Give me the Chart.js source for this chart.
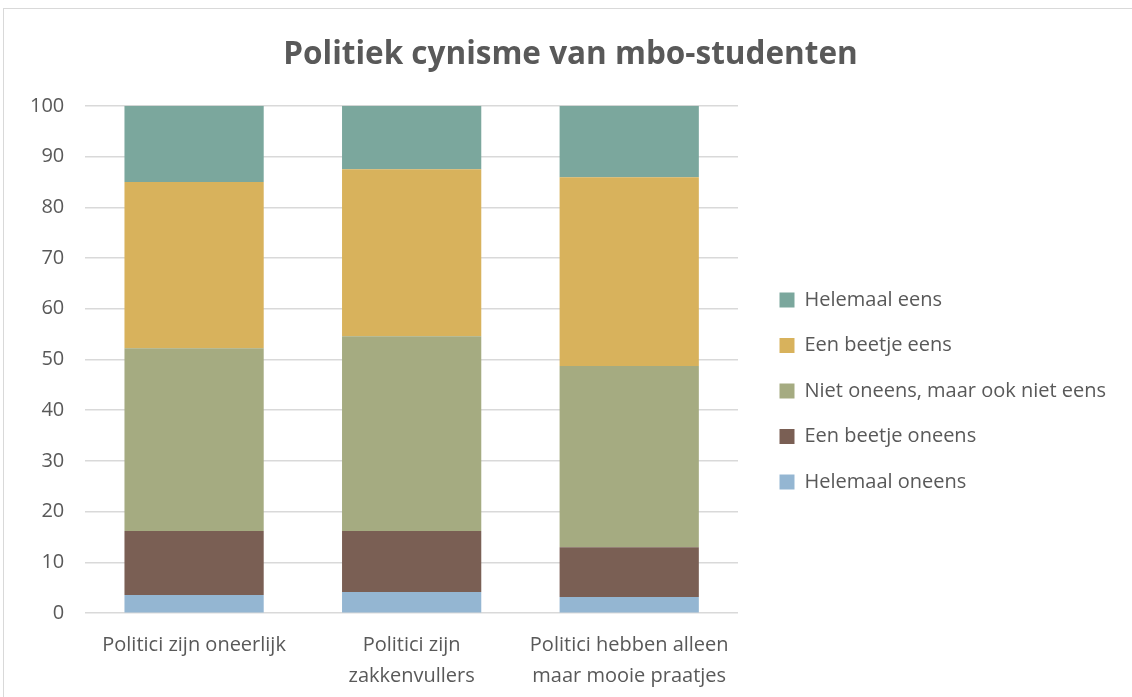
<!DOCTYPE html>
<html>
<head>
<meta charset="utf-8">
<script src="https://cdn.jsdelivr.net/npm/chart.js@4"></script>
<style>
  html, body { margin: 0; padding: 0; background: #fff; }
  #wrap {
    position: absolute; left: 3px; top: 8px; width: 1128px; height: 688px;
    border: 1px solid #d9d9d9; border-right: none; border-bottom: none;
  }
  canvas { display: block; }
</style>
</head>
<body>
<div id="wrap"><canvas id="chart"></canvas></div>
<script>
// ── Data ─────────────────────────────────────────
const categories = [
    ['Politici zijn oneerlijk'],
    ['Politici zijn', 'zakkenvullers'],
    ['Politici hebben alleen', 'maar mooie praatjes']
];
const seriesNames = [
    'Helemaal oneens',
    'Een beetje oneens',
    'Niet oneens, maar ook niet eens',
    'Een beetje eens',
    'Helemaal eens'
];
const helemaalOneens = [3.6, 4.2, 3.2];
const beetjeOneens   = [12.6, 12.0, 9.8];
const neutraal       = [36.0, 38.4, 35.7];
const beetjeEens     = [32.8, 32.9, 37.2];
const helemaalEens   = [15.0, 12.5, 14.1];
const yTicks = [0, 10, 20, 30, 40, 50, 60, 70, 80, 90, 100];

const seriesValues = [helemaalOneens, beetjeOneens, neutraal, beetjeEens, helemaalEens];
const seriesColors = ['#94B6D2', '#7A5F54', '#A5AB81', '#D8B25C', '#7BA79D'];

const TEXT = '#595959';
const FONT = '"Open Sans", Lato, sans-serif';

// legend breedte vastzetten en daarna een stukje verschuiven
const legendPlacePlugin = {
    id: 'legendPlace',
    beforeInit(chart) {
        const origFit = chart.legend.fit;
        chart.legend.fit = function () {
            origFit.bind(chart.legend)();
            this.width = 394;
        };
    },
    afterLayout(chart) {
        const lg = chart.legend;
        lg.left += 16;
        lg.top += 23;
        lg.bottom += 23;
    }
};

const ctx = document.getElementById('chart').getContext('2d');
new Chart(ctx, {
    type: 'bar',
    data: {
        labels: categories,
        datasets: seriesNames.map((name, i) => ({
            label: name,
            data: seriesValues[i],
            backgroundColor: seriesColors[i],
            borderWidth: 0,
            categoryPercentage: 1.0,
            barPercentage: 0.64
        }))
    },
    options: {
        responsive: true,
        maintainAspectRatio: false,
        animation: false,
        layout: { padding: { left: 5, right: 0, top: 27, bottom: -3 } },
        scales: {
            x: {
                stacked: true,
                grid: { display: false },
                border: { display: false },
                ticks: {
                    color: TEXT,
                    font: { family: FONT, size: 20, lineHeight: 1.52 },
                    maxRotation: 0,
                    padding: 9
                }
            },
            y: {
                stacked: true,
                min: 0,
                max: 100,
                afterBuildTicks: (axis) => { axis.ticks = yTicks.map(v => ({ value: v })); },
                grid: { color: '#d9d9d9', lineWidth: 1.5, drawTicks: false },
                border: { display: false },
                ticks: { color: TEXT, font: { family: FONT, size: 20 }, padding: 21 }
            }
        },
        plugins: {
            title: {
                display: true,
                text: 'Politiek cynisme van mbo-studenten',
                color: TEXT,
                font: { family: FONT, size: 31.5, weight: 'bold' },
                padding: { top: 0, bottom: 32 }
            },
            legend: {
                position: 'right',
                reverse: true,
                align: 'center',
                labels: {
                    color: TEXT,
                    font: { family: FONT, size: 20 },
                    boxWidth: 15,
                    boxHeight: 15,
                    padding: 25.5
                }
            },
            tooltip: { enabled: false }
        }
    },
    plugins: [legendPlacePlugin]
});
</script>
</body>
</html>
